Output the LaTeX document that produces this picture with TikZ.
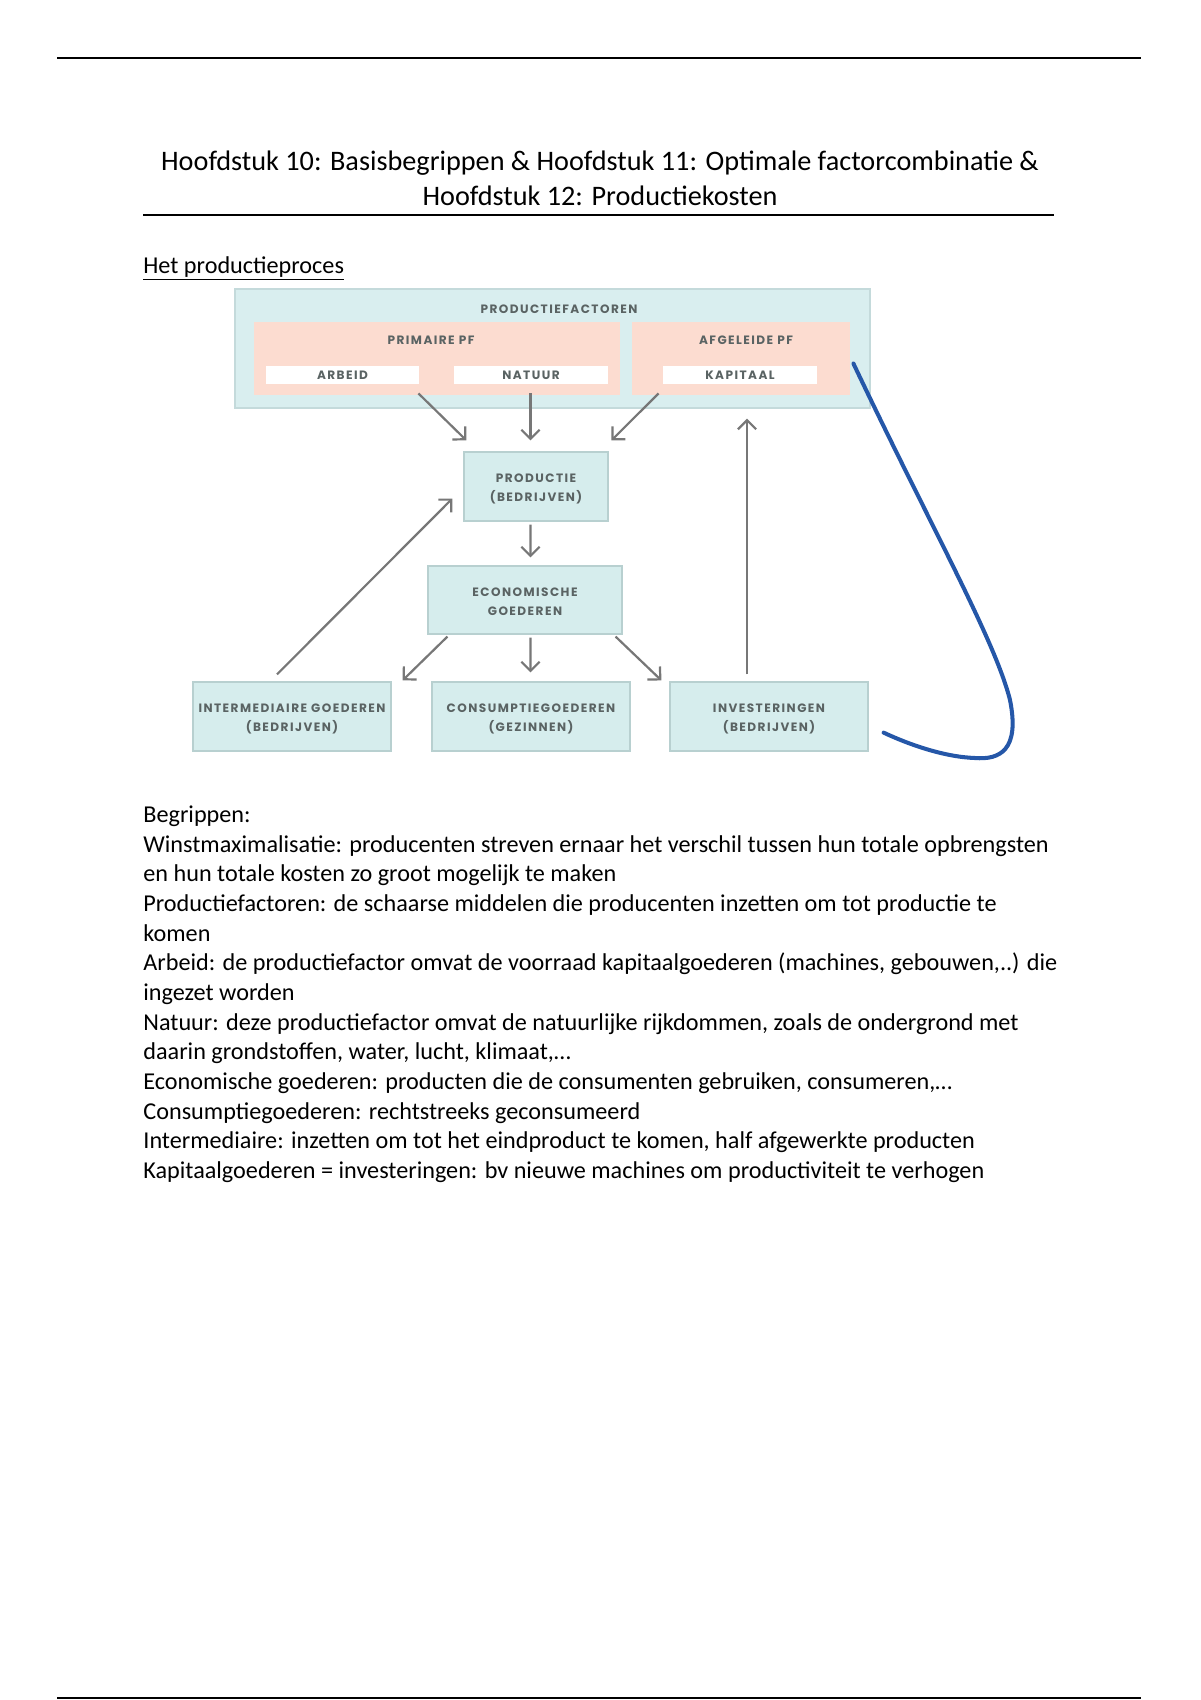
\documentclass[tikz,border=0pt]{standalone}
\usepackage{fontspec}
\setmainfont{Carlito}
\newfontfamily\diafont[LetterSpace=12]{Poppins}
\usepackage{tikz}
\usetikzlibrary{positioning, calc, fit, arrows.meta}

\definecolor{pfblue}{HTML}{D9EEEF}
\definecolor{pfborder}{HTML}{C4DADB}
\definecolor{pfpink}{HTML}{FCDCD0}
\definecolor{boxfill}{HTML}{D6EDED}
\definecolor{boxline}{HTML}{B8D0D0}
\definecolor{labelgray}{HTML}{5A6363}
\definecolor{flowgray}{HTML}{777777}
\definecolor{penblue}{HTML}{2557A8}

\tikzset{
  dia/.style={font=\diafont\bfseries\fontsize{6}{9.4}\selectfont, text=labelgray, align=center},
  oneline/.style={dia, text height=4.2pt, text depth=0pt},
  twoline/.style={dia, yshift=-1pt},
  pfbox/.style={fill=pfblue, draw=pfborder, line width=0.6pt, inner sep=0pt},
  pinkbox/.style={fill=pfpink, inner sep=0pt},
  whitebox/.style={fill=white, inner sep=0pt},
  flowbox/.style={fill=boxfill, draw=boxline, line width=0.6pt, inner sep=0pt},
  flow/.style={draw=flowgray, line width=1.1pt, -{Straight Barb[length=4.5pt,width=9pt]}},
  rule/.style={line width=1.3pt}
}

\begin{document}
\begin{tikzpicture}[x=0.49583pt, y=-0.49583pt]
\useasboundingbox (0,0) rectangle (1200,1700);

%// page rules
\draw[rule] (57,58) -- (1141,58);
\draw[rule] (57,1698) -- (1141,1698);

%// title
\node[font=\fontsize{14}{17.1}\selectfont, anchor=base] (title1) at (600,170.5) {Hoofdstuk 10: Basisbegrippen \& Hoofdstuk 11: Optimale factorcombinatie \&};
\node[font=\fontsize{14}{17.1}\selectfont, anchor=base] (title2) at (600,205) {Hoofdstuk 12: Productiekosten};
\draw[line width=1pt] (143,215) -- (1054,215);

\node[font=\fontsize{12}{14.6}\selectfont, anchor=base west, inner sep=0pt] (kop) at (143,273) {\underline{Het productieproces}};

%// productiefactoren
\node[pfbox, fit={(235,289) (870,408)}] (pf) {};
\node[oneline] (pflabel) at (559,309) {PRODUCTIEFACTOREN};
\node[pinkbox, fit={(254,322) (620,395)}] (primair) {};
\node[pinkbox, fit={(632,322) (850,395)}] (afgeleid) {};
\node[oneline] (primlabel) at (431,340) {PRIMAIRE PF};
\node[oneline] (afglabel) at (746,340) {AFGELEIDE PF};
\node[whitebox, fit={(266,366) (419,384)}, label={[oneline]center:ARBEID}] (arbeid) {};
\node[whitebox, fit={(454,366) (608,384)}, label={[oneline]center:NATUUR}] (natuur) {};
\node[whitebox, fit={(663,366) (817,384)}, label={[oneline]center:KAPITAAL}] (kapitaal) {};

%// production chain
\node[flowbox, fit={(464,452) (608,521)}, label={[twoline]center:{PRODUCTIE\\(BEDRIJVEN)}}] (productie) {};
\node[flowbox, fit={(428,566) (622,634)}, label={[twoline]center:{ECONOMISCHE\\GOEDEREN}}] (economisch) {};
\node[flowbox, fit={(193,682) (391,751)}, label={[twoline]center:{INTERMEDIAIRE GOEDEREN\\(BEDRIJVEN)}}] (intermediair) {};
\node[flowbox, fit={(432,682) (630,751)}, label={[twoline]center:{CONSUMPTIEGOEDEREN\\(GEZINNEN)}}] (consumptie) {};
\node[flowbox, fit={(670,682) (868,751)}, label={[twoline]center:{INVESTERINGEN\\(BEDRIJVEN)}}] (investering) {};

%// arrows
\draw[flow] ($(arbeid.south east)+(-1,9)$) -- ($(productie.north west)+(3,-11)$);
\draw[flow] ($(natuur.south)+(-0.5,9)$) -- ($(productie.north)+(-5.5,-11)$);
\draw[flow] ($(kapitaal.south west)+(-4,9)$) -- ($(productie.north west)+(148,-11)$);
\draw[flow] ($(productie.south)+(-5.5,3)$) -- ($(economisch.north)+(5.5,-8)$);
\draw[flow] ($(economisch.south west)+(20,2)$) -- ($(intermediair.north east)+(11,-1)$);
\draw[flow] ($(economisch.south)+(5.5,3)$) -- ($(consumptie.north)+(-0.5,-9)$);
\draw[flow] ($(economisch.south east)+(-7,2)$) -- ($(investering.north west)+(-8,-1)$);
\draw[flow] ($(intermediair.north)+(-15,-7)$) -- ($(productie.west)+(-11,12)$);
\draw[flow] ($(investering.north)+(-22,-7)$) coordinate (invtop) -- ($(invtop |- pf.south)+(0,10)$);

%// blue pen stroke
\draw[penblue, line width=2pt, line cap=round] ($(afgeleid.east)+(3,5)$)
  .. controls (930,525) and (995,640) .. (1010,700)
  .. controls (1020,750) and (1000,760) .. (975,758)
  .. controls (945,757) and (910,745) .. ($(investering.south east)+(15,-19)$);

%// begrippen
\foreach \i/\txt in {
  0/{Begrippen:},
  1/{Winstmaximalisatie: producenten streven ernaar het verschil tussen hun totale opbrengsten},
  2/{en hun totale kosten zo groot mogelijk te maken},
  3/{Productiefactoren: de schaarse middelen die producenten inzetten om tot productie te},
  4/{komen},
  5/{Arbeid: de productiefactor omvat de voorraad kapitaalgoederen (machines, gebouwen,..) die},
  6/{ingezet worden},
  7/{Natuur: deze productiefactor omvat de natuurlijke rijkdommen, zoals de ondergrond met},
  8/{daarin grondstoffen, water, lucht, klimaat,…},
  9/{Economische goederen: producten die de consumenten gebruiken, consumeren,…},
  10/{Consumptiegoederen: rechtstreeks geconsumeerd},
  11/{Intermediaire: inzetten om tot het eindproduct te komen, half afgewerkte producten},
  12/{Kapitaalgoederen = investeringen: bv nieuwe machines om productiviteit te verhogen}}
\node[font=\fontsize{12}{14.6}\selectfont, anchor=base west, inner sep=0pt] (begrip\i) at (143,{822.5+29.65*\i}) {\txt};

\end{tikzpicture}
\end{document}
